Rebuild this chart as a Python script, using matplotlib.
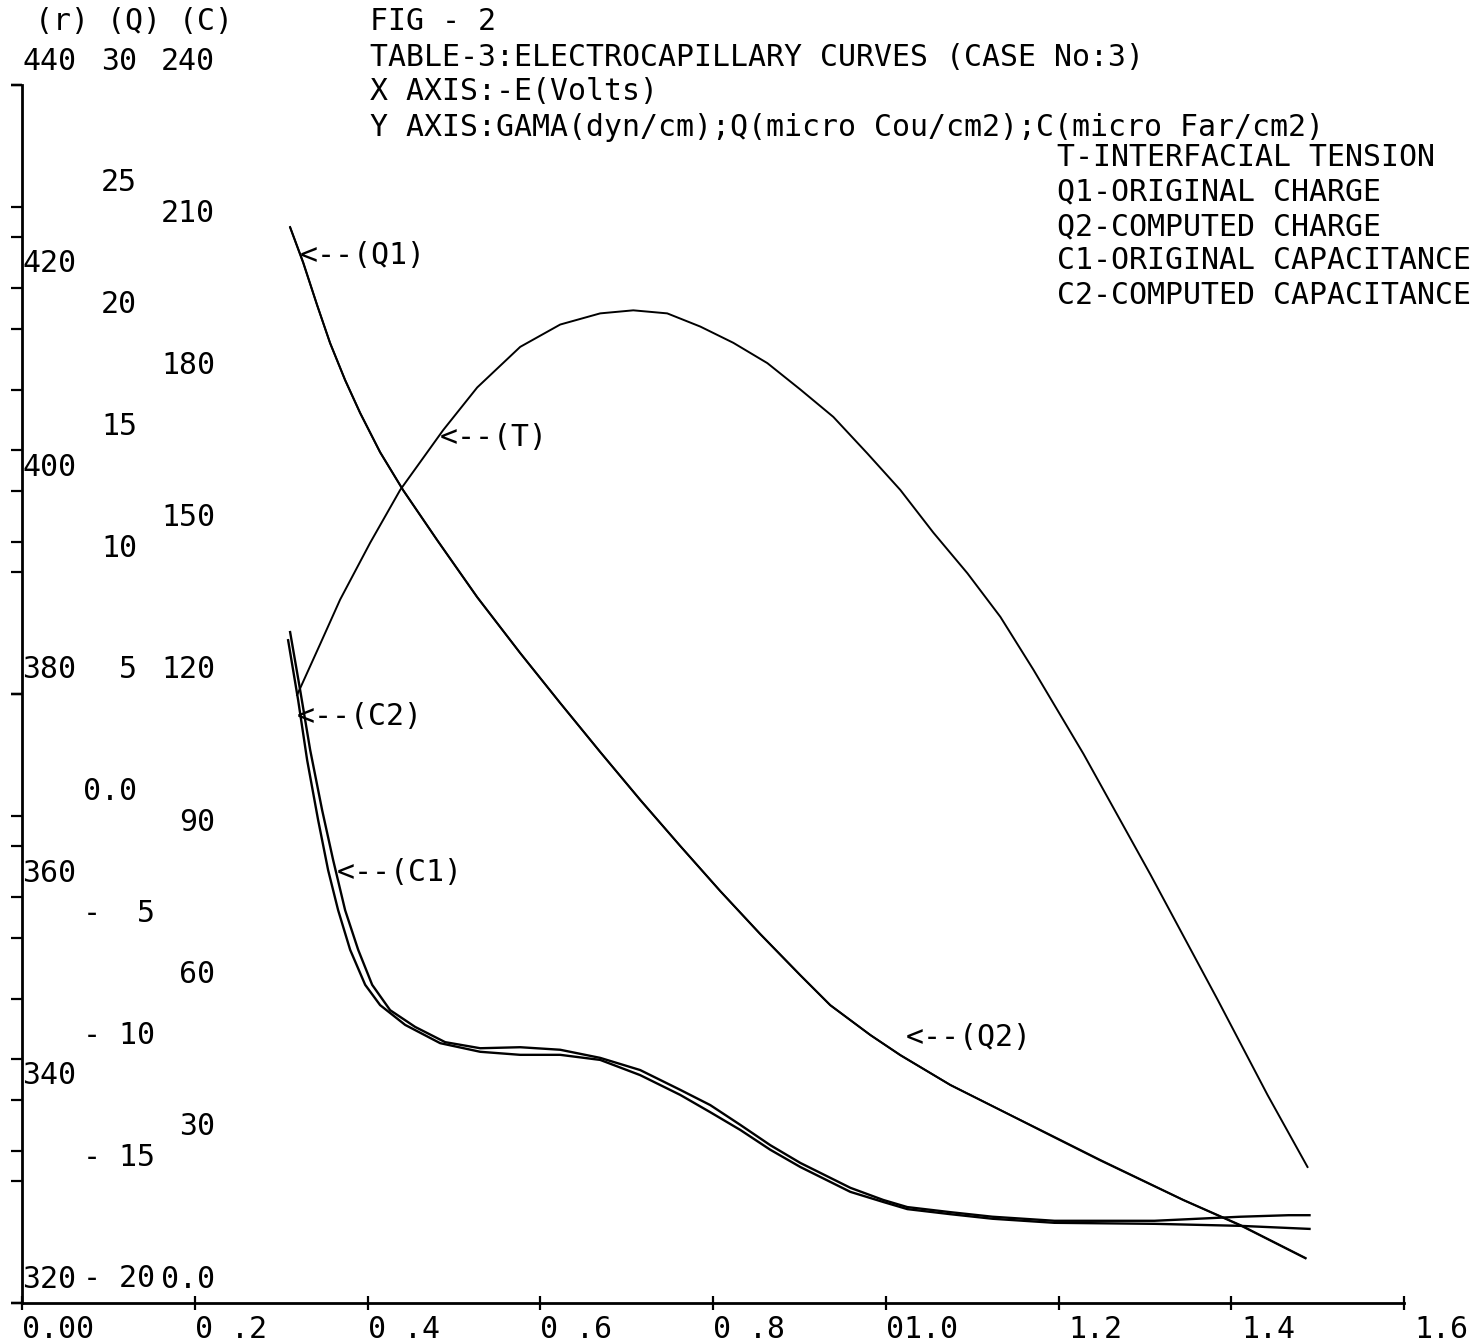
#Electrocapillary curves, plotter style figure (FIG - 2)
import matplotlib
matplotlib.use('Agg')
import matplotlib.pyplot as plt
import numpy as np

# Interfacial tension T (dyn/cm) vs -E (Volts)
E_T = [0.3185, 0.3451, 0.3683, 0.4031, 0.4378, 0.4876, 0.5270, 0.5768, 0.6231, 0.6694,
       0.7077, 0.7470, 0.7853, 0.8235, 0.8629, 0.9011, 0.9393, 0.9787, 1.0169, 1.0551,
       1.0945, 1.1327, 1.1709, 1.2289, 1.3065, 1.3841, 1.4420, 1.4883]
T = [379.9, 384.9, 389.3, 394.9, 400.1, 406.0, 410.2, 414.2, 416.4, 417.5,
     417.8, 417.5, 416.2, 414.6, 412.6, 410.0, 407.3, 403.7, 400.1, 395.9,
     391.9, 387.6, 382.4, 374.1, 362.2, 349.9, 340.5, 333.4]

# Charge Q1 (original) and Q2 (computed), micro Cou/cm2
E_Q = [0.3104, 0.3255, 0.3417, 0.3567, 0.3741, 0.3915, 0.4146, 0.4413, 0.4807, 0.5270,
       0.5768, 0.6231, 0.6694, 0.7157, 0.7621, 0.8084, 0.8547, 0.9011, 0.9358, 0.9822,
       1.0169, 1.0748, 1.1327, 1.1906, 1.2485, 1.3447, 1.4107, 1.4860]
Q1 = [24.17, 22.73, 20.97, 19.41, 17.89, 16.54, 14.93, 13.37, 11.32, 8.98,
      6.68, 4.63, 2.62, 0.65, -1.24, -3.09, -4.85, -6.54, -7.77, -9.00,
      -9.82, -11.05, -12.08, -13.10, -14.13, -15.77, -16.80, -18.15]
Q2 = [24.15, 22.70, 20.95, 19.40, 17.88, 16.53, 14.92, 13.36, 11.31, 8.97,
      6.68, 4.63, 2.62, 0.66, -1.24, -3.09, -4.86, -6.55, -7.78, -9.00,
      -9.83, -11.05, -12.08, -13.12, -14.15, -15.78, -16.82, -18.17]

# Capacitance C1 (original) and C2 (computed), micro Far/cm2
E_C1 = [0.3104, 0.3220, 0.3336, 0.3475, 0.3602, 0.3741, 0.3892, 0.4054, 0.4262, 0.4552,
        0.4899, 0.5305, 0.5768, 0.6231, 0.6694, 0.7157, 0.7621, 0.7968, 0.8316, 0.8663,
        0.9011, 0.9590, 0.9972, 1.0250, 1.0748, 1.1235, 1.1953, 1.3111, 1.4107, 1.4663, 1.4906]
C1 = [132.2, 120.8, 109.0, 97.1, 87.3, 77.4, 69.6, 62.7, 57.7, 54.4,
      51.4, 50.2, 50.4, 49.9, 48.3, 45.9, 42.0, 39.0, 35.1, 31.1,
      27.6, 22.7, 20.3, 18.9, 17.9, 17.0, 16.2, 16.2, 17.0, 17.3, 17.3]
E_C2 = [0.3081, 0.3197, 0.3301, 0.3428, 0.3544, 0.3660, 0.3799, 0.3973, 0.4146, 0.4436,
        0.4841, 0.5305, 0.5768, 0.6231, 0.6694, 0.7157, 0.7621, 0.7968, 0.8316, 0.8663,
        0.9011, 0.9590, 0.9972, 1.0250, 1.0748, 1.1235, 1.1953, 1.3111, 1.4107, 1.4906]
C2 = [130.6, 118.8, 107.0, 95.2, 85.3, 77.4, 69.6, 62.7, 58.7, 54.8,
      51.2, 49.5, 48.9, 48.9, 47.9, 44.9, 41.0, 37.6, 34.1, 30.2,
      26.8, 21.9, 19.9, 18.5, 17.5, 16.6, 15.8, 15.6, 15.2, 14.6]

# Axis tick labels (plotter formatting kept as printed)
x_ticks = [0.0, 0.2, 0.4, 0.6, 0.8, 1.0, 1.2, 1.4, 1.6]
x_labels = ['0.00', '0 .2', '0 .4', '0 .6', '0 .8', '01.0', '1.2', '1.4', '1.6']
r_ticks = [440, 420, 400, 380, 360, 340, 320]
r_labels = ['440', '420', '400', '380', '360', '340', '320']
q_ticks = [30, 25, 20, 15, 10, 5, 0, -5, -10, -15, -20]
q_labels = ['30', '25', '20', '15', '10', '5', '0.0', '-  5', '- 10', '- 15', '- 20']
c_ticks = [240, 210, 180, 150, 120, 90, 60, 30, 0]
c_labels = ['240', '210', '180', '150', '120', '90', '60', '30', '0.0']

title_lines = ['FIG - 2',
               'TABLE-3:ELECTROCAPILLARY CURVES (CASE No:3)',
               'X AXIS:-E(Volts)',
               'Y AXIS:GAMA(dyn/cm);Q(micro Cou/cm2);C(micro Far/cm2)']
key_lines = ['T-INTERFACIAL TENSION',
             'Q1-ORIGINAL CHARGE',
             'Q2-COMPUTED CHARGE',
             'C1-ORIGINAL CAPACITANCE',
             'C2-COMPUTED CAPACITANCE']

W, H = 1483, 1342
mono = 'DejaVu Sans Mono'
fs = 21.5
lw = 1.4

fig = plt.figure(figsize=(W / 100, H / 100), dpi=100)
# axes box in pixels: left 22, right 1404, top 85, bottom 1303
ax = fig.add_axes([22 / W, 1 - 1303 / H, (1404 - 22) / W, (1303 - 85) / H])
ax_q = ax.twinx()
ax_c = ax.twinx()

ax.set_xlim(0, 1.6)
ax.set_ylim(320, 440)
ax_q.set_ylim(-20, 30)
ax_c.set_ylim(0, 240)

# curves
ax.plot(E_T, T, color='black', lw=lw)
ax_q.plot(E_Q, Q1, color='black', lw=lw)
ax_q.plot(E_Q, Q2, color='black', lw=lw)
ax_c.plot(E_C1, C1, color='black', lw=lw + 0.3)
ax_c.plot(E_C2, C2, color='black', lw=lw + 0.3)

# spines
for a in [ax, ax_q, ax_c]:
    for s in a.spines.values():
        s.set_visible(False)
ax.spines['left'].set_visible(True)
ax.spines['bottom'].set_visible(True)
ax.spines['left'].set_linewidth(2.0)
ax.spines['bottom'].set_linewidth(2.0)

# ticks, all three y scales on the left axis
ax.set_xticks(x_ticks)
ax.set_xticklabels([])
ax.tick_params(axis='x', direction='inout', length=10, width=1.6)
ax.set_yticks(r_ticks)
ax.set_yticklabels([])
for a, tk in [(ax_q, q_ticks), (ax_c, c_ticks)]:
    a.yaxis.set_ticks_position('left')
    a.set_yticks(tk)
    a.set_yticklabels([])
for a in [ax, ax_q, ax_c]:
    a.tick_params(axis='y', direction='out', length=8, width=1.6,
                  labelleft=False, labelright=False)

# tick labels (drawn slightly above the tick, like the plotter did)
px = 0.72  # points per pixel at 100 dpi
for v, s in zip(r_ticks, r_labels):
    ax.annotate(s, xy=(0, v), xycoords=('axes fraction', 'data'), xytext=(0, 24 * px),
                textcoords='offset points', ha='left', va='center', family=mono, fontsize=fs)
for v, s in zip(q_ticks, q_labels):
    dx = 115 if v >= 0 else 133
    ax_q.annotate(s, xy=(0, v), xycoords=('axes fraction', 'data'), xytext=(dx * px, 24 * px),
                  textcoords='offset points', ha='right', va='center', family=mono, fontsize=fs)
for v, s in zip(c_ticks, c_labels):
    ax_c.annotate(s, xy=(0, v), xycoords=('axes fraction', 'data'), xytext=(193 * px, 24 * px),
                  textcoords='offset points', ha='right', va='center', family=mono, fontsize=fs)
for v, s in zip(x_ticks, x_labels):
    dx = 0 if len(s) == 4 else 10
    ax.annotate(s, xy=(v, 0), xycoords=('data', 'axes fraction'), xytext=(dx * px, -26 * px),
                textcoords='offset points', ha='left', va='center', family=mono, fontsize=fs)

# curve tags
ax_q.text(0.322, 23.0, '<--(Q1)', family=mono, fontsize=fs, ha='left', va='center')
ax.text(0.484, 405.3, '<--(T)', family=mono, fontsize=fs, ha='left', va='center')
ax_c.text(0.3185, 115.5, '<--(C2)', family=mono, fontsize=fs, ha='left', va='center')
ax_c.text(0.3648, 84.9, '<--(C1)', family=mono, fontsize=fs, ha='left', va='center')
ax_q.text(1.0227, -9.1, '<--(Q2)', family=mono, fontsize=fs, ha='left', va='center')

# header texts
fig.text(35 / W, 1 - 22 / H, '(r) (Q) (C)', family=mono, fontsize=fs, ha='left', va='center')
for i, s in enumerate(title_lines):
    fig.text(370 / W, 1 - (22 + 35 * i) / H, s, family=mono, fontsize=fs, ha='left', va='center')
for i, s in enumerate(key_lines):
    fig.text(1057 / W, 1 - (158 + 34.3 * i) / H, s, family=mono, fontsize=fs, ha='left', va='center')

fig.savefig('out.png', dpi=100)
